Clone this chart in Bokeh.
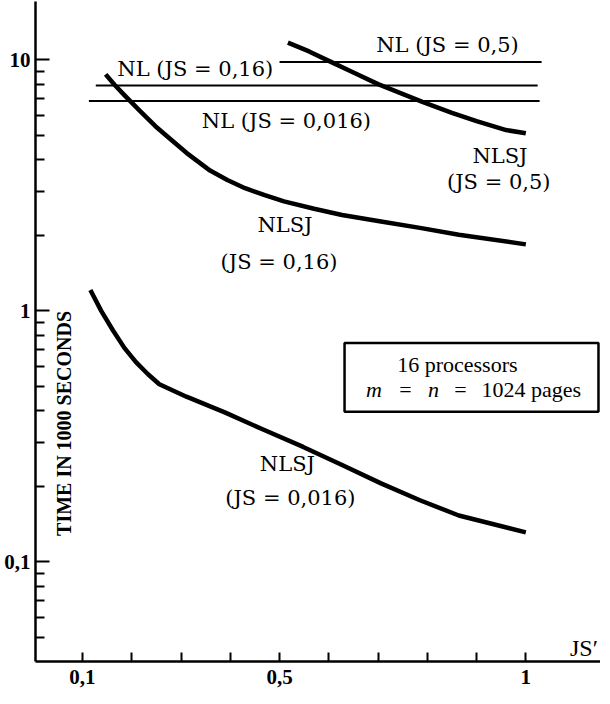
from bokeh.plotting import figure
from bokeh.models import Range1d, FixedTicker, Label, BoxAnnotation
from bokeh.embed import file_html
from bokeh.resources import INLINE

# ---- data ----
x_ticks = [0.1, 0.2, 0.3, 0.4, 0.5, 0.6, 0.7, 0.8, 0.9, 1.0]
x_tick_labels = ["0,1", "", "", "", "0,5", "", "", "", "", "1"]
y_ticks = [0.1, 1, 10]
y_tick_labels = ["0,1", "1", "10"]
y_minor = [0.05, 0.06, 0.07, 0.08, 0.09,
           0.2, 0.3, 0.4, 0.5, 0.6, 0.7, 0.8, 0.9,
           2, 3, 4, 5, 6, 7, 8, 9]

# NL (horizontal) lines
nl_05_x = [0.50, 1.032]
nl_05_y = [9.8, 9.8]
nl_016_x = [0.127, 1.024]
nl_016_y = [7.9, 7.9]
nl_0016_x = [0.113, 1.028]
nl_0016_y = [6.85, 6.85]

# NLSJ curves
nlsj_05_x = [0.517, 0.56, 0.60, 0.65, 0.70, 0.79, 0.85, 0.90, 0.96, 1.0]
nlsj_05_y = [11.7, 10.8, 9.9, 8.9, 8.0, 6.8, 6.15, 5.7, 5.25, 5.1]

nlsj_016_x = [0.147, 0.165, 0.185, 0.217, 0.248, 0.280, 0.311, 0.359, 0.394, 0.430,
              0.470, 0.509, 0.570, 0.627, 0.706, 0.785, 0.864, 1.0]
nlsj_016_y = [8.75, 7.95, 7.23, 6.25, 5.44, 4.80, 4.26, 3.62, 3.32, 3.08,
              2.89, 2.73, 2.55, 2.41, 2.27, 2.14, 2.01, 1.84]

nlsj_0016_x = [0.116, 0.138, 0.162, 0.185, 0.209, 0.233, 0.256, 0.311, 0.390, 0.469,
               0.548, 0.627, 0.706, 0.785, 0.864, 1.0]
nlsj_0016_y = [1.21, 1.0, 0.835, 0.712, 0.623, 0.559, 0.510, 0.455, 0.393, 0.335,
               0.287, 0.243, 0.2055, 0.176, 0.153, 0.131]

SERIF = "DejaVu Serif"
SERIF2 = "Liberation Serif"

p = figure(frame_width=565, frame_height=660,
           x_range=Range1d(0.0046, 1.1516), y_range=Range1d(0.0401, 17.07),
           y_axis_type="log", output_backend="svg", toolbar_location=None,
           min_border_left=35, min_border_right=0, min_border_top=1, min_border_bottom=29)

p.xgrid.visible = False
p.ygrid.visible = False
p.outline_line_color = None
p.background_fill_color = "white"
p.border_fill_color = "white"

xa = p.xaxis[0]
xa.ticker = FixedTicker(ticks=x_ticks, minor_ticks=[])
xa.major_label_overrides = dict(zip(x_ticks, x_tick_labels))
xa.major_tick_in = 9
xa.major_tick_out = 0
xa.minor_tick_in = 0
xa.minor_tick_out = 0
xa.axis_line_width = 2.5
xa.major_tick_line_width = 2
xa.axis_line_color = "black"
xa.major_tick_line_color = "black"
xa.major_label_text_font = SERIF2
xa.major_label_text_font_style = "bold"
xa.major_label_text_font_size = "21px"
xa.major_label_text_color = "black"
xa.major_label_standoff = 8

ya = p.yaxis[0]
ya.ticker = FixedTicker(ticks=y_ticks, minor_ticks=y_minor)
ya.major_label_overrides = dict(zip(y_ticks, y_tick_labels))
ya.major_tick_in = 14
ya.major_tick_out = 0
ya.minor_tick_in = 9
ya.minor_tick_out = 0
ya.axis_line_width = 2.5
ya.major_tick_line_width = 2
ya.minor_tick_line_width = 2
ya.axis_line_color = "black"
ya.major_tick_line_color = "black"
ya.minor_tick_line_color = "black"
ya.major_label_text_font = SERIF2
ya.major_label_text_font_style = "bold"
ya.major_label_text_font_size = "21px"
ya.major_label_text_color = "black"
ya.major_label_standoff = 5

# NL lines (thin)
for xs, ys in [(nl_05_x, nl_05_y), (nl_016_x, nl_016_y), (nl_0016_x, nl_0016_y)]:
    p.line(xs, ys, line_color="black", line_width=2)

# NLSJ curves (thick)
for xs, ys in [(nlsj_05_x, nlsj_05_y), (nlsj_016_x, nlsj_016_y), (nlsj_0016_x, nlsj_0016_y)]:
    p.line(xs, ys, line_color="black", line_width=4.5, line_join="round", line_cap="butt")

def lab(x, y, text, size="21px", style="normal", align="center", font=SERIF, angle=0.0):
    p.add_layout(Label(x=x, y=y, text=text, text_font=font, text_font_size=size,
                       text_font_style=style, text_align=align, text_baseline="middle",
                       text_color="black", angle=angle))

lab(0.329, 9.23, "NL (JS = 0,16)")
lab(0.841, 11.46, "NL (JS = 0,5)")
lab(0.514, 5.73, "NL (JS = 0,016)")
lab(0.9475, 4.12, "NLSJ")
lab(0.945, 3.27, "(JS = 0,5)")
lab(0.511, 2.20, "NLSJ")
lab(0.499, 1.57, "(JS = 0,16)")
lab(0.516, 0.246, "NLSJ")
lab(0.522, 0.18, "(JS = 0,016)")

# info box
p.add_layout(BoxAnnotation(left=0.632, right=1.1475, bottom=0.396, top=0.745,
                           fill_alpha=0, line_color="black", line_alpha=1.0, line_width=2.5))
lab(0.861, 0.612, "16 processors", size="22px", font=SERIF2)
lab(0.6918, 0.488, "m", size="22px", style="italic", font=SERIF2)
lab(0.7557, 0.488, "=", size="22px", font=SERIF2)
lab(0.8125, 0.488, "n", size="22px", style="italic", font=SERIF2)
lab(0.8674, 0.488, "=", size="22px", font=SERIF2)
lab(0.910, 0.488, "1024 pages", size="22px", align="left", font=SERIF2)

# axis titles
lab(1.118, 0.0452, "JS\u2032", size="24px", font=SERIF2)
lab(0.0630, 0.356, "TIME IN 1000 SECONDS", size="20px", style="bold", font=SERIF2,
    angle=1.5707963)

open("out.html", "w").write(file_html(p, INLINE))
